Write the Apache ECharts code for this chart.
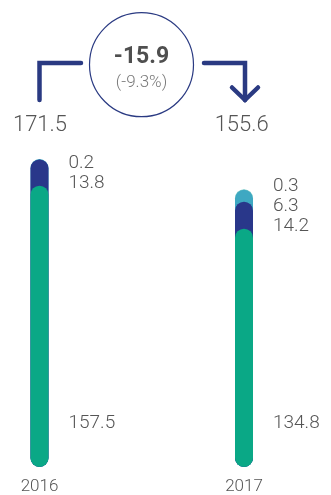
<!DOCTYPE html>
<html>
<head>
<meta charset="utf-8">
<script src="https://cdn.jsdelivr.net/npm/echarts@6/dist/echarts.min.js"></script>
<style>
  html, body { margin: 0; padding: 0; background: #ffffff; }
  #chart { width: 331px; height: 495px; }
</style>
</head>
<body>
<div id="chart"></div>
<script>
// Years and the stacked components of each year's total
const years = ['2016', '2017'];
const greenPart = [157.5, 134.8];
const navyPart = [13.8, 14.2];
const tealPart = [0.2, 6.3];
const palePart = [null, 0.3];
const totals = [171.5, 155.6];

const FONT = 'Roboto';
const TEXT = '#555555';
const NAVY = '#2a3a82';
const COLORS = { pale: '#86d0ca', teal: '#3ea8c2', navy: '#29378a', green: '#0aa886' };

// Cumulative heights: each layer is a rounded capsule drawn from the base
function add(a, b) { return a.map((v, i) => (b[i] == null ? v : v + b[i])); }
const cumGreen = greenPart.slice();
const cumNavy = add(cumGreen, navyPart);
const cumTeal = add(cumNavy, tealPart);
const cumPale = palePart.map((v, i) => (v == null ? null : cumTeal[i] + v));

const fmt = v => v.toFixed(1);
const change = totals[1] - totals[0];
const changePct = change / totals[0] * 100;

const BAR_W = 18;
function layer(name, data, color, label) {
  return {
    name, type: 'bar', data,
    barWidth: BAR_W, barGap: '-100%',
    itemStyle: { color, borderRadius: BAR_W / 2 },
    label: label || { show: false },
    emphasis: { disabled: true },
    animation: false
  };
}

// Upper value list (small components, top first), anchored at the green layer top
const upperLabel = {
  show: true,
  position: [BAR_W + 20, 8],
  align: 'left', verticalAlign: 'bottom',
  fontFamily: FONT, fontWeight: 300, fontSize: 19, lineHeight: 20, color: TEXT,
  formatter: p => [palePart[p.dataIndex], tealPart[p.dataIndex], navyPart[p.dataIndex]]
    .filter(v => v != null).map(fmt).join('\n')
};
// Main component value, anchored near the base
const baseLabel = {
  show: true,
  position: ['100%', '100%'], offset: [20, -44],
  align: 'left', verticalAlign: 'middle',
  fontFamily: FONT, fontWeight: 300, fontSize: 19, color: TEXT,
  formatter: p => fmt(greenPart[p.dataIndex])
};

const chart = echarts.init(document.getElementById('chart'), null, { renderer: 'canvas' });

const option = {
  backgroundColor: '#ffffff',
  animation: false,
  grid: { left: 39.5, right: 87, top: 143, bottom: 27, containLabel: false },
  xAxis: {
    type: 'category', data: years, boundaryGap: false,
    axisLine: { show: false }, axisTick: { show: false }, splitLine: { show: false },
    axisLabel: { margin: 11, fontFamily: FONT, fontWeight: 300, fontSize: 17, color: TEXT }
  },
  yAxis: { type: 'value', min: 9, max: 180, show: false, splitLine: { show: false } },
  series: [
    layer('pale', cumPale, COLORS.pale),
    layer('teal', cumTeal, COLORS.teal),
    layer('navy', cumNavy, COLORS.navy, baseLabel),
    layer('green', cumGreen, COLORS.green, upperLabel)
  ],
  graphic: [
    // Change badge
    { type: 'circle', shape: { cx: 141.5, cy: 64.7, r: 52 },
      style: { fill: 'none', stroke: NAVY, lineWidth: 1.2 } },
    { type: 'text', x: 141.5, y: 57,
      style: { text: fmt(change), fontFamily: FONT, fontWeight: 'bold', fontSize: 23,
               fill: '#4f4f4f', align: 'center', verticalAlign: 'middle' } },
    { type: 'text', x: 141.5, y: 83,
      style: { text: '(' + fmt(changePct) + '%)', fontFamily: FONT, fontWeight: 300, fontSize: 17,
               fill: '#7a7a7a', align: 'center', verticalAlign: 'middle' } },
    // Connector from the first total and arrow down to the second
    { type: 'polyline', shape: { points: [[39.5, 100], [39.5, 63], [81, 63]] },
      style: { fill: 'none', stroke: NAVY, lineWidth: 4.5, lineCap: 'round', lineJoin: 'miter' } },
    { type: 'polyline', shape: { points: [[204, 63], [245, 63], [245, 100]] },
      style: { fill: 'none', stroke: NAVY, lineWidth: 4.5, lineCap: 'round', lineJoin: 'miter' } },
    { type: 'polyline', shape: { points: [[232, 87.5], [245, 100], [258, 87.5]] },
      style: { fill: 'none', stroke: NAVY, lineWidth: 4.5, lineCap: 'round', lineJoin: 'miter' } },
    // Totals
    { type: 'text', x: 40, y: 125,
      style: { text: fmt(totals[0]), fontFamily: FONT, fontWeight: 300, fontSize: 22,
               fill: TEXT, align: 'center', verticalAlign: 'middle' } },
    { type: 'text', x: 241.7, y: 125,
      style: { text: fmt(totals[1]), fontFamily: FONT, fontWeight: 300, fontSize: 22,
               fill: TEXT, align: 'center', verticalAlign: 'middle' } }
  ]
};

chart.setOption(option);
</script>
</body>
</html>
